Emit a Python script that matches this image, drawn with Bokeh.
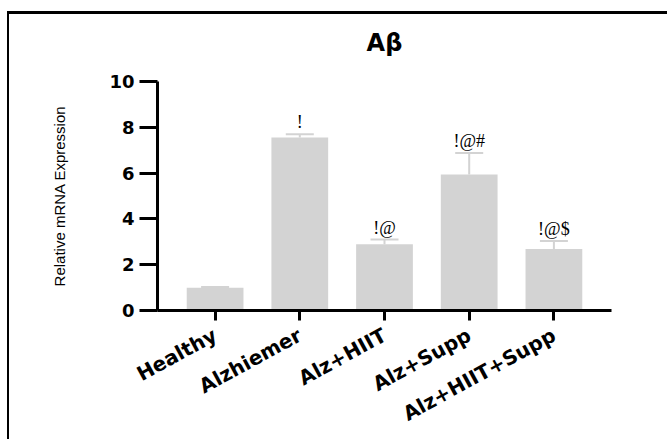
from bokeh.plotting import figure
from bokeh.models import (FactorRange, Range1d, ColumnDataSource, Whisker,
                          TeeHead, LabelSet, FixedTicker)
from bokeh.embed import file_html
from bokeh.resources import INLINE

# ---- data ----
groups = ["Healthy", "Alzhiemer", "Alz+HIIT", "Alz+Supp", "Alz+HIIT+Supp"]
means = [0.99, 7.56, 2.89, 5.94, 2.69]
errors = [0.04, 0.14, 0.21, 0.94, 0.34]
marks = ["", "!", "!@", "!@#", "!@$"]
y_ticks = [0, 2, 4, 6, 8, 10]
title_text = "Aβ"
y_label = "Relative mRNA Expression"

upper = [m + e for m, e in zip(means, errors)]
src = ColumnDataSource(dict(g=groups, m=means, up=upper, lab=marks))

BAR = "#d3d3d3"

p = figure(
    x_range=FactorRange(factors=groups, range_padding=0.18,
                        range_padding_units="absolute"),
    y_range=Range1d(0, 10),
    width=667, height=439,
    output_backend="svg", toolbar_location=None,
    min_border_left=157, min_border_right=56,
    min_border_top=81, min_border_bottom=126,
    title=title_text,
)
# page frame lines (top and left edges of the outer box)
p.styles = {
    "background-color": "white",
    "background-image": "linear-gradient(black, black), linear-gradient(black, black)",
    "background-size": "100% 3px, 2px 100%",
    "background-position": "7px 11px, 7px 11px",
    "background-repeat": "no-repeat",
}
p.border_fill_color = None
p.background_fill_color = "white"
p.outline_line_color = None

p.vbar(x="g", top="m", bottom=0, width=0.67, source=src,
       fill_color=BAR, line_color=None)

p.add_layout(Whisker(source=src, base="g", upper="up", lower="m",
                     line_color=BAR, line_width=2,
                     upper_head=TeeHead(size=28, line_color=BAR, line_width=2),
                     lower_head=None))

p.add_layout(LabelSet(x="g", y="up", text="lab", source=src,
                      text_align="center", text_baseline="alphabetic",
                      y_offset=6, text_font="DejaVu Sans",
                      text_font_size="18px", text_color="black"))

p.xgrid.visible = False
p.ygrid.visible = False

p.title.align = "center"
p.title.text_font = "DejaVu Sans"
p.title.text_font_style = "bold"
p.title.text_font_size = "24px"
p.title.text_color = "black"
p.title.standoff = 49

ya = p.yaxis[0]
ya.ticker = FixedTicker(ticks=y_ticks)
ya.axis_line_width = 3
ya.axis_line_color = "black"
ya.major_tick_line_width = 3
ya.major_tick_line_color = "black"
ya.major_tick_out = 18
ya.major_tick_in = 0
ya.minor_tick_line_color = None
ya.major_label_standoff = 5
ya.major_label_text_font = "DejaVu Sans"
ya.major_label_text_font_style = "bold"
ya.major_label_text_font_size = "18px"
ya.major_label_text_color = "black"
ya.axis_label = y_label
ya.axis_label_text_font = "Liberation Sans"
ya.axis_label_text_font_style = "normal"
ya.axis_label_text_font_size = "15px"
ya.axis_label_text_color = "black"
ya.axis_label_standoff = 38

xa = p.xaxis[0]
xa.axis_line_width = 3
xa.axis_line_color = "black"
xa.major_tick_line_width = 3
xa.major_tick_line_color = "black"
xa.major_tick_out = 10
xa.major_tick_in = 0
xa.minor_tick_line_color = None
xa.major_label_orientation = 0.5
xa.major_label_standoff = 13
xa.major_label_text_font = "DejaVu Sans"
xa.major_label_text_font_style = "bold"
xa.major_label_text_font_size = "20px"
xa.major_label_text_color = "black"

open("out.html", "w").write(file_html(p, INLINE))
